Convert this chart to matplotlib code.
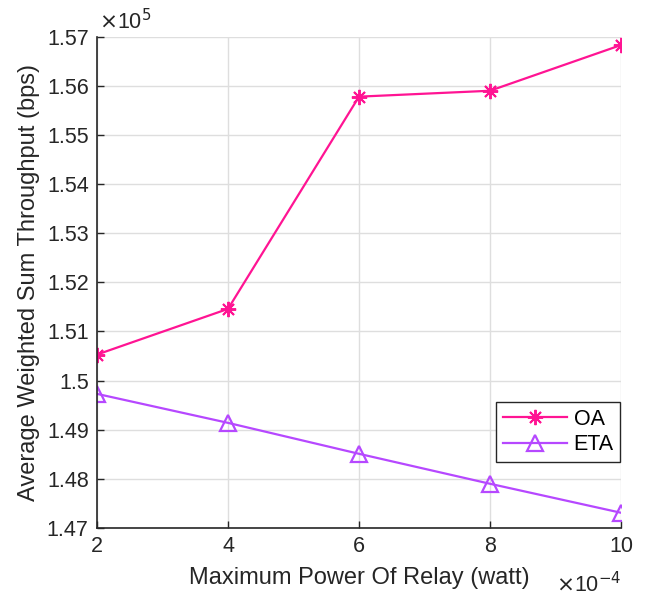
import matplotlib.pyplot as plt
from matplotlib.ticker import FuncFormatter

plt.rcParams['font.family'] = ['Liberation Sans', 'DejaVu Sans']

# relay power (watt) and average weighted sum throughput (bps)
power = [2e-4, 4e-4, 6e-4, 8e-4, 10e-4]
oa = [1.5053e5, 1.5146e5, 1.5578e5, 1.5590e5, 1.5683e5]
eta = [1.4973e5, 1.4914e5, 1.4851e5, 1.4790e5, 1.4731e5]

x_ticks = [2e-4, 4e-4, 6e-4, 8e-4, 10e-4]
y_ticks = [1.47e5, 1.48e5, 1.49e5, 1.5e5, 1.51e5, 1.52e5, 1.53e5, 1.54e5, 1.55e5, 1.56e5, 1.57e5]

fig = plt.figure(figsize=(6.45, 5.97), dpi=100)
ax = fig.add_axes([0.1504, 0.1156, 0.8124, 0.8229])

# asterisk marker: + and x overlaid
ax.plot(power, oa, color='#ff1493', lw=1.6, marker=(8, 2, 0), markersize=11,
        markeredgewidth=1.4, label='OA')
ax.plot(power, eta, color='#b648ff', lw=1.6, marker='^', markersize=12,
        markerfacecolor='none', markeredgewidth=1.6, label='ETA')

ax.set_xlim(2e-4, 10e-4)
ax.set_ylim(1.47e5, 1.57e5)
ax.set_xticks(x_ticks)
ax.set_yticks(y_ticks)
ax.xaxis.set_major_formatter(FuncFormatter(lambda v, p: '%g' % round(v * 1e4, 6)))
ax.yaxis.set_major_formatter(FuncFormatter(lambda v, p: '%g' % round(v / 1e5, 6)))

ax.grid(True, color='#dedede', lw=1)
ax.set_axisbelow(True)
for s in ['top', 'right']:
    ax.spines[s].set_visible(False)
for s in ['left', 'bottom']:
    ax.spines[s].set_color('#262626')
    ax.spines[s].set_linewidth(1.2)
ax.tick_params(direction='in', length=5, width=1, colors='#262626', labelsize=15.5, pad=6)

ax.set_xlabel('Maximum Power Of Relay (watt)', fontsize=17, color='#262626', labelpad=7)
ax.set_ylabel('Average Weighted Sum Throughput (bps)', fontsize=17, color='#262626', labelpad=5)

# MATLAB style exponent labels
ax.text(0.003, 1.006, r'$\times$10$^5$', transform=ax.transAxes, fontsize=15.5,
        color='#262626', ha='left', va='bottom')
ax.text(1.0, -0.089, r'$\times$10$^{-4}$', transform=ax.transAxes, fontsize=15.5,
        color='#262626', ha='right', va='top')

leg = ax.legend(loc='lower right', bbox_to_anchor=(0.9985, 0.135), fancybox=False,
                edgecolor='#262626', framealpha=1, fontsize=15.5, handlelength=3.0,
                borderpad=0.3, labelspacing=0.2, handletextpad=0.3, borderaxespad=0)
leg.get_frame().set_linewidth(1)

fig.savefig('out.png', dpi=100)
